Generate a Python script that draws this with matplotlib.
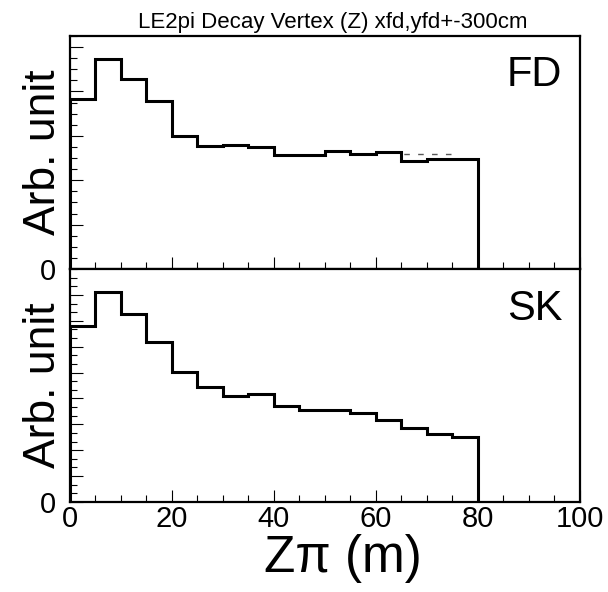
import matplotlib
matplotlib.use("Agg")
import matplotlib.pyplot as plt
import numpy as np
from matplotlib.ticker import MultipleLocator, NullFormatter

plt.rcParams['font.family'] = ['Liberation Sans', 'DejaVu Sans']

# bin edges in m (5 m bins up to 80 m)
edges = np.arange(0, 85, 5)

# FD histogram (arbitrary units)
fd = [3.84, 4.74, 4.28, 3.79, 2.99, 2.78, 2.80, 2.74,
      2.56, 2.57, 2.67, 2.60, 2.63, 2.44, 2.48, 2.48]
# faint dashed overlay, only differs around 65-75 m
fd_dash = [3.84, 4.74, 4.28, 3.79, 2.99, 2.78, 2.80, 2.74,
           2.56, 2.57, 2.67, 2.60, 2.63, 2.59, 2.59, 2.48]

# SK histogram (arbitrary units)
sk = [6.80, 8.10, 7.28, 6.18, 5.03, 4.43, 4.08, 4.16,
      3.69, 3.55, 3.55, 3.45, 3.16, 2.84, 2.63, 2.53]

title = "LE2pi Decay Vertex (Z) xfd,yfd+-300cm"

fig = plt.figure(figsize=(6.08, 5.92), dpi=100)
ax1 = fig.add_axes([0.1151, 0.5456, 0.8388, 0.3936])
ax2 = fig.add_axes([0.1151, 0.1520, 0.8388, 0.3936])


def style(ax, ymax, ysub):
    ax.set_xlim(0, 100)
    ax.set_ylim(0, ymax)
    for s in ax.spines.values():
        s.set_linewidth(1.6)
    ax.xaxis.set_major_locator(MultipleLocator(20))
    ax.xaxis.set_minor_locator(MultipleLocator(5))
    ax.yaxis.set_minor_locator(MultipleLocator(1.0 / ysub))
    ax.tick_params(which='both', direction='in', top=False, right=False,
                   width=0.8, labelsize=21)
    ax.tick_params(axis='x', pad=2)
    ax.tick_params(axis='y', pad=10)
    ax.tick_params(which='major', length=9)
    ax.tick_params(which='minor', length=5)
    # only "0" labelled on y
    yt = np.arange(0, ymax, 1.0)
    ax.set_yticks(yt)
    ax.set_yticklabels(["0"] + [""] * (len(yt) - 1))
    ax.set_ylabel("Arb. unit", fontsize=32)
    ax.yaxis.set_label_coords(-0.012, 0.5)


ax1.stairs(fd_dash, edges, baseline=0, color="0.35", lw=1.0,
           linestyle=(0, (4, 6)), zorder=2)
ax1.stairs(fd, edges, baseline=0, color="black", lw=2.2, zorder=3)
style(ax1, 5.25, 4)
ax1.xaxis.set_major_formatter(NullFormatter())
ax1.text(0.965, 0.7835, "FD", transform=ax1.transAxes, fontsize=30,
         ha='right', va='baseline')

ax2.stairs(sk, edges, baseline=0, color="black", lw=2.2, zorder=3)
style(ax2, 9.0, 3)
ax2.text(0.965, 0.782, "SK", transform=ax2.transAxes, fontsize=30,
         ha='right', va='baseline')
ax2.set_xlabel("Zπ (m)", fontsize=37)
ax2.xaxis.set_label_coords(0.535, -0.137)

fig.text(0.5477, 1 - 28.3 / 592, title, fontsize=16, ha='center',
         va='baseline')

fig.savefig("out.png", dpi=100)
